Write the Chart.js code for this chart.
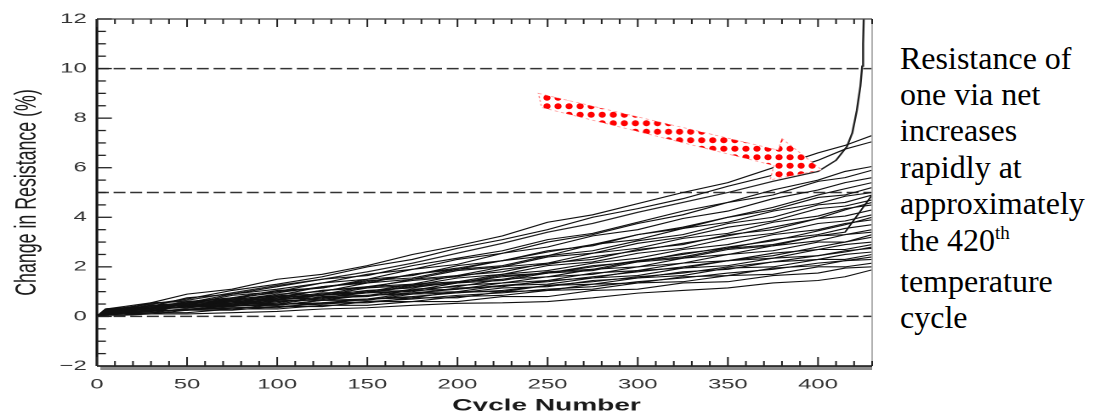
<!DOCTYPE html>
<html>
<head>
<meta charset="utf-8">
<script src="https://cdn.jsdelivr.net/npm/chart.js@4.4.1/dist/chart.umd.min.js"></script>
<style>
  html, body { margin: 0; padding: 0; background: #fff; }
  body { width: 1098px; height: 411px; overflow: hidden; position: relative; }
  #wrap { position: absolute; left: 0; top: 0; width: 520px; height: 411px;
          transform: scaleX(1.7); transform-origin: 0 0; }
  #note { position: absolute; left: 900px; top: 39.5px; font-family: 'Liberation Serif', serif;
          font-size: 32px; line-height: 36.4px; color: #000; white-space: nowrap; }
  #note .sup { font-size: 19px; position: relative; top: -12px; }
</style>
</head>
<body>
<div id="wrap"><canvas id="chart" width="520" height="411"></canvas></div>
<div id="note">Resistance of<br>one via net<br>increases<br>rapidly at<br>approximately<br>the 420<span class="sup">th</span><br>temperature<br>cycle</div>
<script>
// cycle numbers where each net was sampled
const cycles = [0, 5, 15, 30, 50, 75, 100, 125, 150, 175, 200, 225, 250, 275, 300, 325, 350, 375, 400, 415, 430];

// change in resistance (%) per via net
const net01 = [0, 0.3, 0.4, 0.55, 0.9, 1.1, 1.5, 1.7, 2.05, 2.5, 2.85, 3.25, 3.8, 4.1, 4.55, 5.0, 5.4, 6.0, 6.6, 6.9, 7.3];
const net02 = [0, 0.2, 0.35, 0.5, 0.7, 1.05, 1.3, 1.6, 2.0, 2.3, 2.75, 3.1, 3.5, 4.0, 4.35, 4.75, 5.25, 5.7, 6.3, 6.75, 7.05];
const net03 = [0, 0.3, 0.35, 0.4, 0.75, 0.9, 1.2, 1.5, 1.65, 2.05, 2.35, 2.65, 3.1, 3.35, 3.8, 4.25, 4.6, 5.1, 5.5, 5.85, 6.05];
const net04 = [0, 0.15, 0.3, 0.45, 0.55, 0.9, 1.1, 1.35, 1.7, 1.9, 2.3, 2.55, 3.0, 3.3, 3.75, 4.1, 4.6, 4.9, 5.45, 5.6, 5.9];
const net05 = [0, 0.2, 0.2, 0.4, 0.5, 0.85, 1.0, 1.35, 1.5, 1.9, 2.1, 2.55, 2.8, 3.25, 3.5, 3.95, 4.25, 4.75, 5.1, 5.4, 5.6];
const net06 = [0, 0.25, 0.3, 0.35, 0.6, 0.7, 1.0, 1.15, 1.5, 1.65, 2.05, 2.25, 2.65, 2.85, 3.3, 3.55, 4.0, 4.3, 4.8, 4.9, 5.2];
const net07 = [0, 0.1, 0.25, 0.3, 0.4, 0.7, 0.85, 1.2, 1.35, 1.7, 1.9, 2.25, 2.45, 2.9, 3.1, 3.55, 3.8, 4.25, 4.55, 4.85, 5.0];
const net08 = [0, 0.3, 0.3, 0.55, 0.6, 0.75, 1.05, 1.15, 1.45, 1.55, 1.9, 2.05, 2.45, 2.65, 3.05, 3.3, 3.75, 4.0, 4.5, 4.6, 4.9];
const net09 = [0, 0.2, 0.3, 0.3, 0.55, 0.65, 0.9, 1.0, 1.35, 1.5, 1.85, 2.0, 2.4, 2.55, 2.95, 3.2, 3.6, 3.85, 4.35, 4.45, 4.7];
const net10 = [0, 0.15, 0.15, 0.35, 0.4, 0.65, 0.75, 1.05, 1.15, 1.5, 1.65, 2.0, 2.15, 2.55, 2.75, 3.15, 3.35, 3.8, 4.05, 4.35, 4.5];
const net11 = [0, 0.25, 0.3, 0.3, 0.55, 0.6, 0.85, 0.9, 1.2, 1.3, 1.65, 1.8, 2.15, 2.3, 2.7, 2.9, 3.3, 3.5, 3.95, 4.05, 4.3];
const net12 = [0, 0.1, 0.2, 0.2, 0.45, 0.5, 0.75, 0.85, 1.15, 1.25, 1.55, 1.7, 2.05, 2.2, 2.55, 2.75, 3.15, 3.35, 3.75, 3.85, 4.1];
const net13 = [0, 0.2, 0.25, 0.45, 0.45, 0.65, 0.7, 0.95, 1.0, 1.3, 1.4, 1.7, 1.85, 2.15, 2.35, 2.7, 2.9, 3.3, 3.5, 3.75, 3.9];
const net14 = [0, 0.3, 0.3, 0.45, 0.45, 0.6, 0.65, 0.9, 0.95, 1.25, 1.35, 1.65, 1.75, 2.05, 2.2, 2.55, 2.75, 3.1, 3.3, 3.55, 3.7];
const net15 = [0, 0.15, 0.25, 0.25, 0.45, 0.45, 0.7, 0.75, 1.0, 1.05, 1.35, 1.45, 1.75, 1.85, 2.2, 2.35, 2.7, 2.85, 3.25, 3.3, 3.5];
const net16 = [0, 0.1, 0.1, 0.25, 0.25, 0.5, 0.55, 0.8, 0.85, 1.1, 1.2, 1.5, 1.6, 1.9, 2.0, 2.35, 2.5, 2.85, 3.05, 3.3, 3.4];
const net17 = [0, 0.25, 0.3, 0.3, 0.5, 0.5, 0.7, 0.75, 0.95, 1.0, 1.25, 1.35, 1.6, 1.7, 2.0, 2.15, 2.5, 2.65, 3.0, 3.0, 3.2];
const net18 = [0, 0.2, 0.2, 0.35, 0.35, 0.5, 0.5, 0.75, 0.8, 1.05, 1.1, 1.35, 1.45, 1.75, 1.85, 2.15, 2.25, 2.55, 2.7, 2.9, 3.0];
const net19 = [0, 0.15, 0.25, 0.25, 0.4, 0.4, 0.65, 0.65, 0.85, 0.9, 1.15, 1.2, 1.45, 1.55, 1.85, 1.95, 2.25, 2.35, 2.7, 2.7, 2.9];
const net20 = [0, 0.1, 0.15, 0.25, 0.25, 0.45, 0.45, 0.65, 0.7, 0.95, 1.0, 1.25, 1.3, 1.55, 1.65, 1.95, 2.05, 2.35, 2.45, 2.65, 2.75];
const net21 = [0, 0.2, 0.2, 0.35, 0.35, 0.45, 0.45, 0.65, 0.65, 0.9, 0.95, 1.15, 1.2, 1.45, 1.55, 1.8, 1.9, 2.2, 2.3, 2.5, 2.6];
const net22 = [0, 0.05, 0.15, 0.15, 0.3, 0.3, 0.5, 0.5, 0.7, 0.75, 1.0, 1.0, 1.25, 1.3, 1.55, 1.65, 1.95, 2.0, 2.3, 2.3, 2.5];
const net23 = [0, 0.1, 0.1, 0.25, 0.25, 0.35, 0.35, 0.55, 0.55, 0.75, 0.75, 1.0, 1.05, 1.3, 1.35, 1.6, 1.65, 1.95, 2.05, 2.25, 2.3];
const net24 = [0, 0.05, 0.1, 0.1, 0.25, 0.25, 0.4, 0.4, 0.6, 0.6, 0.8, 0.85, 1.05, 1.1, 1.35, 1.4, 1.65, 1.7, 2.0, 2.0, 2.15];
const net25 = [0, 0.1, 0.1, 0.15, 0.15, 0.3, 0.3, 0.45, 0.45, 0.6, 0.6, 0.8, 0.8, 1.05, 1.1, 1.35, 1.4, 1.65, 1.75, 1.95, 2.0];
const net26 = [0, 0.05, 0.05, 0.1, 0.1, 0.15, 0.2, 0.3, 0.35, 0.45, 0.53, 0.55, 0.6, 0.75, 0.94, 1.05, 1.15, 1.35, 1.45, 1.6, 1.88];
const net27 = [0, 0.2, 0.3, 0.3, 0.5, 0.55, 0.8, 0.85, 1.05, 1.15, 1.4, 1.5, 1.8, 1.9, 2.25, 2.4, 2.75, 2.9, 3.25, 3.4, 4.9];
const net28 = [0, 0.25, 0.3, 0.4, 0.5, 0.7, 0.8, 1.05, 1.2, 1.45, 1.6, 1.9, 2.1, 2.4, 2.65, 2.95, 3.25, 3.6, 3.95, 4.3, 4.6];
const net29 = [0, 0.15, 0.2, 0.3, 0.35, 0.55, 0.65, 0.85, 0.95, 1.2, 1.35, 1.6, 1.75, 2.0, 2.25, 2.5, 2.8, 3.05, 3.45, 3.7, 4.0];
const net30 = [0, 0.3, 0.35, 0.35, 0.4, 0.5, 0.6, 0.7, 0.85, 0.95, 1.1, 1.25, 1.4, 1.6, 1.8, 2.0, 2.25, 2.45, 2.8, 3.0, 3.3];
const net31 = [0, 0.15, 0.15, 0.2, 0.3, 0.35, 0.4, 0.5, 0.6, 0.7, 0.85, 0.95, 1.1, 1.2, 1.4, 1.55, 1.75, 1.9, 2.15, 2.25, 2.4];
const net32 = [0, 0.2, 0.3, 0.35, 0.55, 0.75, 0.95, 1.2, 1.4, 1.7, 1.95, 2.25, 2.6, 2.9, 3.3, 3.6, 4.0, 4.4, 4.9, 5.15, 5.4];
const net33 = [0, 0.1, 0.2, 0.2, 0.3, 0.4, 0.5, 0.55, 0.7, 0.8, 0.95, 1.05, 1.25, 1.4, 1.6, 1.75, 2.0, 2.2, 2.45, 2.6, 2.8];

// the net that fails near cycle 420
const failCycles = [0, 5, 15, 30, 50, 75, 100, 125, 150, 175, 200, 225, 250, 275, 300, 325, 350, 375, 400, 410, 416, 419, 421.5, 423.5, 424.5, 425, 425.5];
const failValues = [0, 0.3, 0.35, 0.5, 0.65, 0.95, 1.25, 1.5, 1.8, 2.15, 2.55, 2.95, 3.4, 3.75, 4.2, 4.6, 5.0, 5.45, 5.85, 6.3, 6.85, 7.4, 8.3, 9.3, 10.1, 11.0, 12.5];

const xTickValues = [0, 50, 100, 150, 200, 250, 300, 350, 400];
const yTickValues = [-2, 0, 2, 4, 6, 8, 10, 12];
const refLevels = [0, 5, 10];

// arrow outline in (cycle, %) units
const arrowPath = [[244.9, 9.0], [378.0, 6.71], [379.9, 7.18], [402.1, 5.91], [373.4, 5.51], [375.6, 6.09], [246.7, 8.43]];

const nets = [net01, net02, net03, net04, net05, net06, net07, net08, net09, net10, net11, net12, net13,
  net14, net15, net16, net17, net18, net19, net20, net21, net22, net23, net24, net25, net26, net27,
  net28, net29, net30, net31, net32, net33];

const datasets = nets.map(function (vals) {
  return {
    data: cycles.map(function (c, i) { return { x: c, y: vals[i] }; }),
    borderColor: '#111',
    borderWidth: 1.1,
    pointRadius: 0,
    tension: 0,
    fill: false,
  };
});
datasets.push({
  data: failCycles.map(function (c, i) { return { x: c, y: failValues[i] }; }),
  borderColor: '#222',
  borderWidth: 1.2,
  pointRadius: 0,
  tension: 0,
  fill: false,
});

function dotPattern(ctx) {
  const s = 2;
  const tile = document.createElement('canvas');
  tile.width = 13;
  tile.height = 17;
  const t = tile.getContext('2d');
  t.fillStyle = '#f00';
  t.beginPath();
  t.ellipse(6.5, 8.5, 2.1 * s, 3.0 * s, 0, 0, Math.PI * 2);
  t.fill();
  const p = ctx.createPattern(tile, 'repeat');
  p.setTransform(new DOMMatrix([1 / s, 0, 0, 1 / s, 0, 0]));
  return p;
}

const framePlugin = {
  id: 'frame',
  beforeDatasetsDraw(chart) {
    const ctx = chart.ctx, ca = chart.chartArea, ys = chart.scales.y;
    ctx.save();
    ctx.strokeStyle = '#333';
    ctx.lineWidth = 1.5;
    ctx.setLineDash([7, 2.8]);
    refLevels.forEach(function (v) {
      const y = ys.getPixelForValue(v);
      ctx.beginPath();
      ctx.moveTo(ca.left, y);
      ctx.lineTo(ca.right, y);
      ctx.stroke();
    });
    ctx.restore();
  },
  afterDatasetsDraw(chart) {
    const ctx = chart.ctx, ca = chart.chartArea;
    const xs = chart.scales.x, ys = chart.scales.y;

    // red dotted arrow
    ctx.save();
    ctx.beginPath();
    arrowPath.forEach(function (p, i) {
      const px = xs.getPixelForValue(p[0]), py = ys.getPixelForValue(p[1]);
      if (i === 0) ctx.moveTo(px, py); else ctx.lineTo(px, py);
    });
    ctx.closePath();
    ctx.fillStyle = '#fff';
    ctx.fill();
    ctx.fillStyle = dotPattern(ctx);
    ctx.fill();
    ctx.strokeStyle = 'rgba(255,60,60,0.5)';
    ctx.lineWidth = 0.8;
    ctx.setLineDash([2, 2]);
    ctx.stroke();
    ctx.restore();

    ctx.save();
    // shadow under x axis
    ctx.fillStyle = '#8c8c8c';
    ctx.fillRect(ca.left + 2, ca.bottom + 0.5, ca.right - ca.left - 2, 3.5);
    // frame
    ctx.strokeStyle = '#111';
    ctx.lineWidth = 1.6;
    ctx.beginPath();
    ctx.moveTo(ca.left, ca.top);
    ctx.lineTo(ca.left, ca.bottom);
    ctx.stroke();
    ctx.lineWidth = 1.5;
    ctx.beginPath();
    ctx.moveTo(ca.left, ca.bottom);
    ctx.lineTo(ca.right, ca.bottom);
    ctx.stroke();
    ctx.strokeStyle = '#444';
    ctx.lineWidth = 1.3;
    ctx.beginPath();
    ctx.moveTo(ca.left, ca.top);
    ctx.lineTo(ca.right, ca.top);
    ctx.stroke();
    ctx.strokeStyle = '#aaa';
    ctx.lineWidth = 0.9;
    ctx.beginPath();
    ctx.moveTo(ca.right, ca.top);
    ctx.lineTo(ca.right, ca.bottom);
    ctx.stroke();

    // inward ticks
    ctx.strokeStyle = '#222';
    ctx.lineWidth = 1.3;
    for (let v = -2; v <= 12; v += 0.5) {
      const y = ys.getPixelForValue(v);
      const len = v % 2 === 0 ? 8.8 : 5.3;
      ctx.beginPath();
      ctx.moveTo(ca.left, y);
      ctx.lineTo(ca.left + len, y);
      ctx.stroke();
    }
    ctx.lineWidth = 1.0;
    for (let c = 0; c <= 430; c += 10) {
      const x = xs.getPixelForValue(c);
      const len = c % 50 === 0 ? 9 : 5;
      ctx.beginPath();
      ctx.moveTo(x, ca.bottom);
      ctx.lineTo(x, ca.bottom - len);
      ctx.moveTo(x, ca.top);
      ctx.lineTo(x, ca.top + (c % 50 === 0 ? 8 : 5));
      ctx.stroke();
    }

    // x axis title
    ctx.fillStyle = '#1a1a1a';
    ctx.font = 'bold 16.5px "Liberation Sans", Arial, sans-serif';
    ctx.textAlign = 'center';
    ctx.textBaseline = 'alphabetic';
    ctx.fillText('Cycle Number', ca.left + (ca.right - ca.left) * 0.58, 410.5);
    ctx.restore();
  }
};

const tickFont = { family: "'Liberation Sans', Arial, sans-serif", size: 14 };

new Chart(document.getElementById('chart').getContext('2d'), {
  type: 'line',
  data: { datasets: datasets },
  options: {
    responsive: false,
    devicePixelRatio: 2,
    animation: false,
    layout: { padding: { left: 0, right: 7, top: 19, bottom: 0 } },
    plugins: { legend: { display: false }, tooltip: { enabled: false } },
    scales: {
      x: {
        type: 'linear',
        min: 0,
        max: 430,
        grid: { display: false, drawTicks: false },
        border: { display: false },
        afterBuildTicks: function (scale) {
          scale.ticks = xTickValues.map(function (v) { return { value: v }; });
        },
        afterFit: function (scale) { scale.height = 45; },
        ticks: { font: tickFont, color: '#333', padding: 10, maxRotation: 0, autoSkip: false },
      },
      y: {
        min: -2,
        max: 12,
        grid: { display: false, drawTicks: false },
        border: { display: false },
        afterBuildTicks: function (scale) {
          scale.ticks = yTickValues.map(function (v) { return { value: v }; });
        },
        afterFit: function (scale) { scale.width = 57; },
        ticks: {
          font: tickFont,
          color: '#333',
          padding: 6,
          callback: function (v) { return String(v).replace('-', '\u2212'); },
        },
        title: {
          display: true,
          text: 'Change in Resistance (%)',
          color: '#1a1a1a',
          font: { family: "'Liberation Sans', Arial, sans-serif", size: 17.8 },
          padding: { top: 5.5, bottom: 0 },
        },
      },
    },
  },
  plugins: [framePlugin],
});
</script>
</body>
</html>
